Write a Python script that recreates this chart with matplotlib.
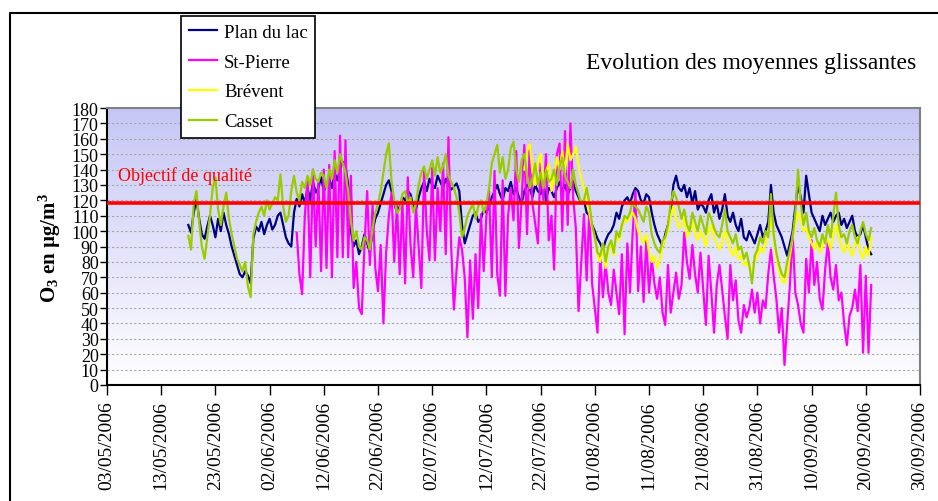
import matplotlib
matplotlib.use('Agg')
import matplotlib.pyplot as plt
import numpy as np
import pandas as pd
from matplotlib.colors import LinearSegmentedColormap
from matplotlib.lines import Line2D

plt.rcParams['font.family'] = ['Liberation Serif', 'DejaVu Serif']
plt.rcParams['mathtext.fontset'] = 'custom'
plt.rcParams['mathtext.rm'] = 'Liberation Serif:bold'
plt.rcParams['mathtext.it'] = 'Liberation Serif:italic:bold'
plt.rcParams['mathtext.bf'] = 'Liberation Serif:bold'

# axis labels
tick_labels = ['03/05/2006', '13/05/2006', '23/05/2006', '02/06/2006',
               '12/06/2006', '22/06/2006', '02/07/2006', '12/07/2006',
               '22/07/2006', '01/08/2006', '11/08/2006', '21/08/2006',
               '31/08/2006', '10/09/2006', '20/09/2006', '30/09/2006']
objectif = 118

# moyennes glissantes, one value every 12 hours
plan_start = '2006-05-18'
plan_du_lac = [
    104, 99, 112, 121, 108, 98, 95, 103, 110, 104, 96, 108, 100, 112, 104, 98,
    90, 84, 78, 72, 70, 74, 71, 66, 95, 103, 100, 106, 98, 104, 108, 101,
    104, 110, 112, 104, 96, 92, 90, 112, 121, 116, 124, 118, 128, 120, 132, 125,
    128, 135, 126, 130, 134, 128, 138, 133, 140, 145, 142, 130, 100, 90, 94, 85,
    90, 98, 92, 86, 100, 108, 112, 118, 124, 130, 133, 126, 118, 112, 116, 122,
    120, 126, 124, 116, 114, 122, 128, 132, 126, 134, 130, 128, 136, 132, 128, 134,
    130, 127, 129, 131, 126, 104, 92, 98, 104, 110, 112, 106, 108, 114, 112, 116,
    122, 126, 130, 124, 120, 128, 126, 132, 124, 128, 122, 118, 126, 130, 128, 122,
    130, 126, 124, 132, 120, 128, 126, 122, 128, 132, 126, 130, 124, 128, 132, 126,
    122, 118, 120, 112, 110, 104, 100, 95, 92, 88, 94, 98, 100, 104, 112, 108,
    116, 120, 122, 118, 124, 128, 126, 120, 118, 124, 122, 112, 104, 98, 94, 90,
    98, 104, 112, 130, 136, 128, 126, 130, 122, 128, 118, 126, 114, 118, 116, 112,
    120, 124, 112, 118, 108, 114, 124, 110, 106, 112, 104, 100, 108, 96, 94, 100,
    96, 92, 98, 104, 96, 100, 106, 130, 112, 104, 100, 96, 90, 84, 92, 100,
    116, 130, 122, 112, 136, 124, 112, 108, 104, 100, 110, 104, 108, 112, 106, 110,
    112, 104, 108, 102, 106, 110, 100, 96, 98, 104, 96, 88, 85]

st_pierre_start = '2006-06-07'
st_pierre = [
    99, 72, 59, 110, 133, 70, 140, 90, 133, 74, 140, 76, 143, 70, 152, 83,
    162, 83, 159, 83, 136, 63, 80, 50, 46, 90, 126, 78, 117, 76, 61, 91,
    40, 86, 110, 125, 80, 118, 72, 120, 66, 135,
    91, 70, 117, 90, 63, 139, 100, 81, 141, 81, 128, 100, 144, 85, 161, 90,
    49, 75, 96, 88, 70, 31, 81, 43, 85, 50, 111, 74, 110, 126, 70, 139,
    72, 58, 133, 58, 110, 128, 107, 152, 89, 120, 156, 98,
    157, 118, 105, 92, 144, 120, 150, 94, 110, 75, 150, 157, 100, 165, 104, 170,
    122, 102, 48, 80, 111, 68, 115, 66, 50, 34, 85, 57, 79, 60, 52, 75,
    60, 46, 85, 33, 92, 60, 100, 126, 61,
    90, 54, 95, 60, 82, 66, 56, 70, 47, 39, 78, 47, 60, 73, 56, 65,
    99, 80, 69, 91, 72, 60, 86, 62, 39, 84, 60, 34, 65, 78, 62, 45,
    30, 78, 55, 68, 42, 34, 52, 44, 50, 62, 47, 60, 40, 55, 50, 72,
    88, 71, 56, 34, 50, 13, 40, 65, 99, 60, 52, 40, 34, 82, 60, 94,
    65, 80, 56, 49, 75, 93, 70, 62, 78, 55, 60, 40, 26, 45, 50, 62,
    48, 78, 21, 71, 21, 65]

brevent_start = '2006-07-19'
brevent = [
    140, 152, 157, 138, 130, 146, 150, 132, 138, 144, 126, 136, 148, 140, 152, 138,
    157, 146, 150, 155, 142, 134, 128, 120, 112, 102, 96, 84, 80, 92, 76, 88,
    92, 84, 98, 94, 102, 108, 106, 110, 112, 108, 100, 96, 92, 98, 86, 80,
    84, 76, 82, 90, 96, 100, 110, 116, 108, 102, 104, 110, 96, 100, 106, 98,
    94, 100, 96, 90, 100, 104, 96, 92, 88, 92, 100, 94, 88, 84, 90, 82,
    84, 78, 80, 76, 74, 80, 84, 90, 86, 92, 100, 108, 96, 82, 74, 68,
    66, 72, 84, 96, 104, 112, 108, 100, 102, 96, 92, 88, 94, 86, 90, 96,
    94, 88, 98, 104, 96, 90, 86, 94, 88, 84, 92, 96, 86, 82, 90, 84, 96]

casset_start = '2006-05-18'
casset = [
    97, 88, 118, 126, 106, 90, 82, 96, 110, 128, 135, 114, 104, 116, 125, 108,
    98, 90, 82, 78, 74, 80, 64, 57, 98, 106, 112, 116, 110, 120, 114, 118,
    122, 120, 137, 116, 106, 110, 126, 136, 125, 120, 132, 128, 136, 130, 140, 134,
    132, 138, 136, 128, 140, 134, 146, 138, 150, 144, 138, 126, 106, 94, 100, 90,
    88, 96, 94, 88, 102, 112, 118, 126, 138, 150, 157, 132, 120, 112, 114, 124,
    126, 118, 122, 112, 118, 130, 138, 142, 134, 140, 146, 136, 148, 138, 142, 150,
    136, 132, 128, 122, 112, 96, 102, 110, 114, 118, 108, 116, 120, 112, 118, 128,
    144, 150, 156, 138, 148, 134, 140, 154, 158, 140, 132, 146, 150, 136, 128, 134,
    144, 130, 138, 128, 140, 132, 134, 140, 130, 142, 148, 136, 132, 128, 140, 130,
    124, 118, 120, 128, 118, 104, 96, 86, 84, 92, 80, 90, 94, 86, 100, 96,
    104, 110, 108, 112, 120, 116, 114, 110, 106, 116, 112, 98, 92, 88, 86, 94,
    96, 104, 118, 126, 122, 116, 108, 114, 104, 100, 112, 106, 100, 110, 104, 98,
    112, 108, 102, 98, 96, 104, 114, 100, 96, 92, 98, 88, 90, 82, 86, 78,
    66, 84, 88, 96, 92, 100, 96, 124, 98, 86, 78, 72, 70, 80, 88, 96,
    112, 140, 118, 104, 112, 100, 96, 102, 94, 90, 98, 92, 104, 96, 110, 125,
    104, 96, 98, 92, 100, 104, 96, 92, 100, 106, 98, 94, 102]

series = [
    ('Plan du lac', plan_start, plan_du_lac, '#000080'),
    ('St-Pierre', st_pierre_start, st_pierre, '#ff00ff'),
    ('Brévent', brevent_start, brevent, '#ffff00'),
    ('Casset', casset_start, casset, '#99cc00'),
]

fig = plt.figure(figsize=(9.38, 5.02), dpi=100)
ax = fig.add_axes([107 / 938, 1 - 386 / 502, 813 / 938, 277 / 502])

# gradient background of the plot area
grad = np.linspace(0, 1, 256).reshape(-1, 1)
bg = LinearSegmentedColormap.from_list('bg', ['#ffffff', '#c6c6f6'])
ax.imshow(grad, extent=[0, 1, 0, 1], transform=ax.transAxes, origin='lower',
          aspect='auto', cmap=bg, zorder=-2)

handles = []
for name, start, vals, color in series:
    t = pd.date_range(start, periods=len(vals), freq='12h')
    ln, = ax.plot(t, vals, color=color, lw=1.6, label=name, zorder=3)
    handles.append(ln)

ax.axhline(objectif, color='red', lw=2.6, zorder=5)

ticks = pd.to_datetime(tick_labels, format='%d/%m/%Y')
ax.set_xlim(ticks[0], ticks[-1])
ax.set_xticks(ticks)
ax.set_xticklabels(tick_labels, rotation=90, fontsize=14)
ax.set_ylim(0, 180)
ax.set_yticks(range(0, 181, 10))
ax.tick_params(axis='y', direction='out', length=5, width=1, labelsize=13, pad=1)
ax.tick_params(axis='x', direction='out', length=7, width=1, pad=4)

ax.yaxis.grid(True, linestyle=(0, (2, 2)), color='#a8a8a8', lw=0.8)
ax.set_axisbelow(True)

for s in ['left', 'bottom']:
    ax.spines[s].set_color('black')
    ax.spines[s].set_linewidth(1.5)
for s in ['top', 'right']:
    ax.spines[s].set_color('#808080')
    ax.spines[s].set_linewidth(1.5)

ax.text(ticks[0] + pd.Timedelta(days=2), 136.5, 'Objectif de qualité',
        color='red', fontsize=13, va='center', ha='left', zorder=6)

ax.set_ylabel(r'O$_3$ en µg/m$^3$', fontweight='bold', fontsize=15, labelpad=6)

fig.text(916 / 938, 1 - 64 / 502, 'Evolution des moyennes glissantes',
         ha='right', va='center', fontsize=17)

# outer frame
fig.add_artist(Line2D([10 / 938, 10 / 938, 1], [0, 1 - 14 / 502, 1 - 14 / 502],
                      color='black', lw=1.5, transform=fig.transFigure))

leg = fig.legend(handles, [h.get_label() for h in handles], loc='upper left',
                 bbox_to_anchor=(181 / 938, 1 - 17 / 502), frameon=True,
                 fancybox=False, edgecolor='black', framealpha=1, fontsize=13.5,
                 handlelength=1.5, handletextpad=0.4, labelspacing=0.68,
                 borderpad=0.4, borderaxespad=0)
leg.get_frame().set_linewidth(1.2)
leg.set_zorder(10)

fig.savefig('out.png', dpi=100)
